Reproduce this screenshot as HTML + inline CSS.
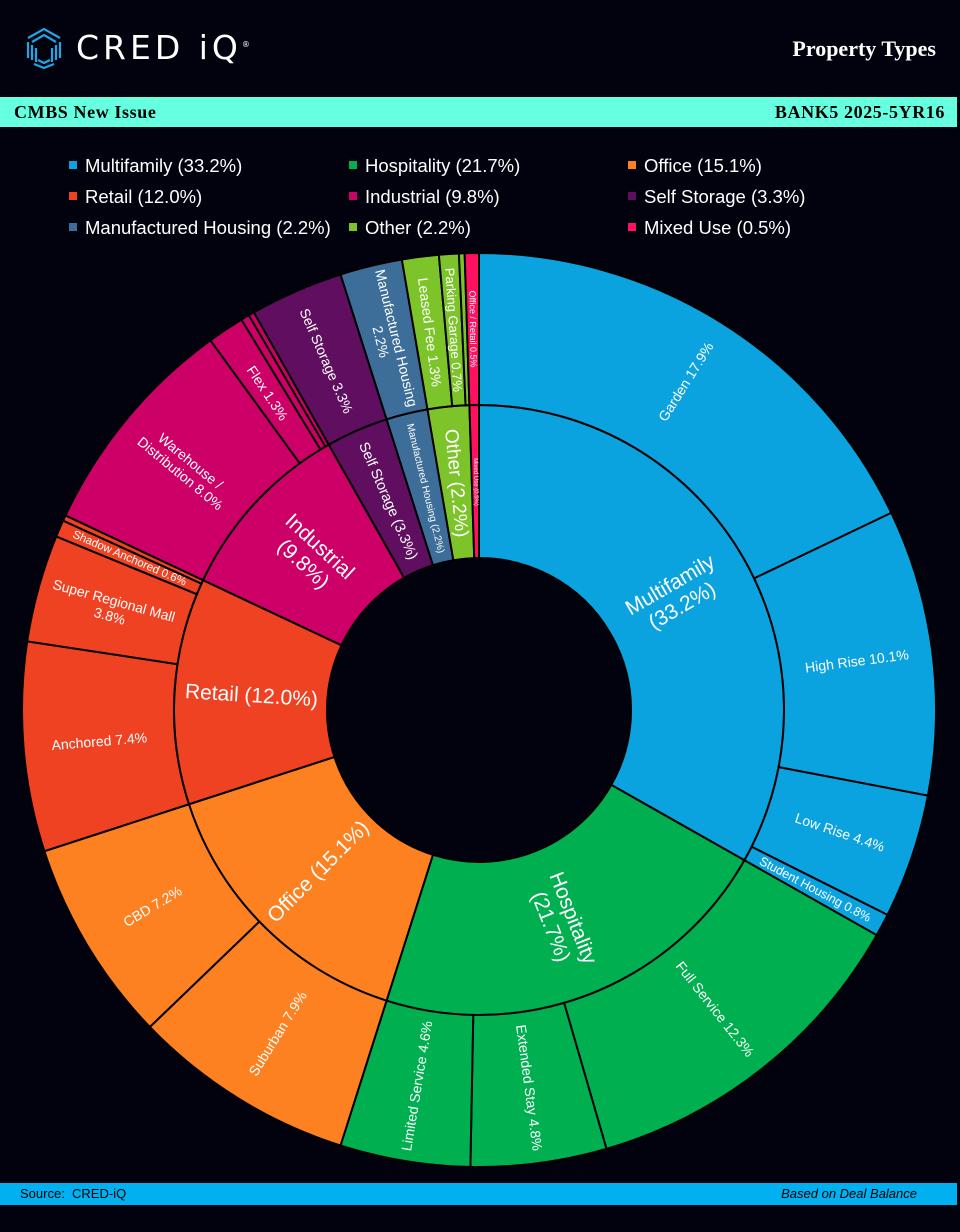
<!DOCTYPE html>
<html><head><meta charset="utf-8">
<style>
html,body{margin:0;padding:0;background:#02020e;}
#wrap{position:relative;width:960px;height:1232px;background:#02020e;overflow:hidden;font-family:"Liberation Sans",sans-serif;}
.band{position:absolute;left:0;width:957px;}
.serif{font-family:"Liberation Serif",serif;font-weight:bold;}
.leg{position:absolute;color:#fff;font-size:18.5px;white-space:nowrap;}
.leg i{display:inline-block;width:8px;height:8px;margin-right:8px;vertical-align:3px;}
svg text{font-family:"Liberation Sans Narrow","Liberation Sans",sans-serif;fill:#fff;}
</style></head><body><div id="wrap">
<!-- logo -->
<svg style="position:absolute;left:24px;top:26px" width="40" height="44" viewBox="0 0 40 44">
<g fill="none" stroke="#1ea7e6" stroke-width="2.2">
<path d="M4 12 L20 3 L36 12"/><path d="M8 16 L20 9 L32 16"/>
<path d="M4 16 V32"/><path d="M8 19 V34"/><path d="M12 22 V36"/>
<path d="M36 16 V32"/><path d="M32 19 V34"/><path d="M28 22 V36"/>
<path d="M10 38 L20 42 L30 38"/><path d="M14 34 L20 37 L26 34"/>
</g></svg>
<div style="position:absolute;left:76px;top:28px;color:#fff;font-size:33px;letter-spacing:4px;font-family:'DejaVu Sans','Liberation Sans',sans-serif;">CRED iQ<sup style="font-size:8px;letter-spacing:0">®</sup></div>
<div class="serif" style="position:absolute;right:24px;top:36px;color:#fff;font-size:22px;">Property Types</div>
<div class="band serif" style="top:97px;height:30px;background:#66ffe0;color:#000;font-size:18px;letter-spacing:0.6px;line-height:30px;">
<span style="position:absolute;left:14px">CMBS New Issue</span><span style="position:absolute;right:12px">BANK5 2025-5YR16</span></div>
<!-- legend -->
<div class="leg" style="left:69px;top:155px"><i style="background:#0aa3df"></i>Multifamily (33.2%)</div>
<div class="leg" style="left:349px;top:155px"><i style="background:#00b050"></i>Hospitality (21.7%)</div>
<div class="leg" style="left:628px;top:155px"><i style="background:#fd8021"></i>Office (15.1%)</div>
<div class="leg" style="left:69px;top:186px"><i style="background:#ee4223"></i>Retail (12.0%)</div>
<div class="leg" style="left:349px;top:186px"><i style="background:#cc0066"></i>Industrial (9.8%)</div>
<div class="leg" style="left:628px;top:186px"><i style="background:#600e60"></i>Self Storage (3.3%)</div>
<div class="leg" style="left:69px;top:217px"><i style="background:#3d6e99"></i>Manufactured Housing (2.2%)</div>
<div class="leg" style="left:349px;top:217px"><i style="background:#7dc42a"></i>Other (2.2%)</div>
<div class="leg" style="left:628px;top:217px"><i style="background:#ff1060"></i>Mixed Use (0.5%)</div>

<svg id="ch" style="position:absolute;left:0;top:0" width="960" height="1232">
<g id="arcs"></g>
<g text-anchor="middle" dominant-baseline="central">
<!-- outer labels -->
<text font-size="14" transform="rotate(32.2 479 710) translate(479 322) rotate(-90)">Garden 17.9%</text>
<text font-size="14" transform="rotate(82.6 479 710) translate(479 329) rotate(-90)">High Rise 10.1%</text>
<text font-size="14" transform="rotate(108.7 479 710) translate(479 329) rotate(-90)">Low Rise 4.4%</text>
<text font-size="12.5" transform="rotate(118.1 479 710) translate(479 329) rotate(-90)">Student Housing 0.8%</text>
<text font-size="14" transform="rotate(141.7 479 710) translate(479 329) rotate(-90)">Full Service 12.3%</text>
<text font-size="14" transform="rotate(172.4 479 710) translate(479 329) rotate(-90)">Extended Stay 4.8%</text>
<text font-size="14" transform="rotate(189.4 479 710) translate(479 329) rotate(90)">Limited Service 4.6%</text>
<text font-size="14" transform="rotate(211.9 479 710) translate(479 329) rotate(90)">Suburban 7.9%</text>
<text font-size="14" transform="rotate(239 479 710) translate(479 329) rotate(90)">CBD 7.2%</text>
<text font-size="14" transform="rotate(265.3 479 710) translate(479 329) rotate(90)">Anchored 7.4%</text>
<text font-size="14" transform="rotate(285.5 479 710) translate(479 329) rotate(90)"><tspan x="0" dy="-8">Super Regional Mall</tspan><tspan x="0" dy="16">3.8%</tspan></text>
<text font-size="11.5" transform="rotate(293.4 479 710) translate(479 329) rotate(90)">Shadow Anchored 0.6%</text>
<text font-size="14" transform="rotate(309.6 479 710) translate(479 329) rotate(90)"><tspan x="0" dy="-8">Warehouse /</tspan><tspan x="0" dy="16">Distribution 8.0%</tspan></text>
<text font-size="14" transform="rotate(326.3 479 710) translate(479 329) rotate(90)">Flex 1.3%</text>
<text font-size="14" transform="rotate(336.4 479 710) translate(479 329) rotate(90)">Self Storage 3.3%</text>
<text font-size="14" transform="rotate(346.3 479 710) translate(479 329) rotate(90)"><tspan x="0" dy="-8">Manufactured Housing</tspan><tspan x="0" dy="16">2.2%</tspan></text>
<text font-size="14" transform="rotate(352.6 479 710) translate(479 329) rotate(90)">Leased Fee 1.3%</text>
<text font-size="13" transform="rotate(356.2 479 710) translate(479 329) rotate(90)">Parking Garage 0.7%</text>
<text font-size="9" transform="rotate(359.1 479 710) translate(479 329) rotate(90)">Office / Retail 0.5%</text>
<!-- inner labels -->
<text font-size="21" transform="rotate(59.76 479 710) translate(479 482) rotate(-90)"><tspan x="0" dy="-12">Multifamily</tspan><tspan x="0" dy="24">(33.2%)</tspan></text>
<text font-size="21" transform="rotate(158.6 479 710) translate(479 482) rotate(-90)"><tspan x="0" dy="-12">Hospitality</tspan><tspan x="0" dy="24">(21.7%)</tspan></text>
<text font-size="21" transform="rotate(224.8 479 710) translate(479 482) rotate(90)">Office (15.1%)</text>
<text font-size="21" transform="rotate(273.6 479 710) translate(479 482) rotate(90)">Retail (12.0%)</text>
<text font-size="21" transform="rotate(312.8 479 710) translate(479 482) rotate(90)"><tspan x="0" dy="-12">Industrial</tspan><tspan x="0" dy="24">(9.8%)</tspan></text>
<text font-size="14.5" transform="rotate(336.4 479 710) translate(479 482) rotate(90)">Self Storage (3.3%)</text>
<text font-size="10" transform="rotate(346.3 479 710) translate(479 482) rotate(90)">Manufactured Housing (2.2%)</text>
<text font-size="19" transform="rotate(354.2 479 710) translate(479 482) rotate(90)">Other (2.2%)</text>
<text font-size="6" transform="rotate(359.1 479 710) translate(479 482) rotate(90)">Mixed Use (0.5%)</text>
</g>
</svg>

<div class="band" style="top:1183px;height:22px;background:#00b0f0;color:#000;font-size:13px;line-height:22px;font-family:'Liberation Sans Narrow','Liberation Sans',sans-serif;">
<span style="position:absolute;left:20px">Source:&nbsp; CRED-iQ</span><span style="position:absolute;right:40px;font-style:italic">Based on Deal Balance</span></div>
</div>
<script>
(function(){
var cx=479,cy=710,R0=152,R1=305,R2=457;
var C={mf:'#0aa3df',ho:'#00b050',of:'#fd8021',re:'#ee4223',in:'#cc0066',ss:'#600e60',mh:'#3d6e99',ot:'#7dc42a',mu:'#ff1060'};
var inner=[['mf',33.2],['ho',21.7],['of',15.1],['re',12.0],['in',9.8],['ss',3.3],['mh',2.2],['ot',2.2],['mu',0.5]];
var outer=[['mf',17.9],['mf',10.1],['mf',4.4],['mf',0.8],['ho',12.3],['ho',4.8],['ho',4.6],['of',7.9],['of',7.2],['re',7.4],['re',3.8],['re',0.6],['re',0.2],['in',8.0],['in',1.3],['in',0.3],['in',0.2],['ss',3.3],['mh',2.2],['ot',1.3],['ot',0.7],['ot',0.2],['mu',0.5]];
function pt(r,a){a=a*Math.PI/180;return [cx+r*Math.sin(a),cy-r*Math.cos(a)];}
function seg(r1,r2,a1,a2){var l=(a2-a1)>180?1:0;var p1=pt(r2,a1),p2=pt(r2,a2),p3=pt(r1,a2),p4=pt(r1,a1);
return 'M'+p1+' A'+r2+','+r2+' 0 '+l+' 1 '+p2+' L'+p3+' A'+r1+','+r1+' 0 '+l+' 0 '+p4+'Z';}
var g=document.getElementById('arcs'),s='';
function ring(list,r1,r2){var c=0;list.forEach(function(d){var a1=c*3.6;c+=d[1];var a2=c*3.6;
s+='<path d="'+seg(r1,r2,a1,a2)+'" fill="'+C[d[0]]+'" stroke="#000" stroke-width="2"/>';});}
ring(inner,R0,R1);ring(outer,R1,R2);
g.innerHTML=s;
})();
</script>
</body></html>
